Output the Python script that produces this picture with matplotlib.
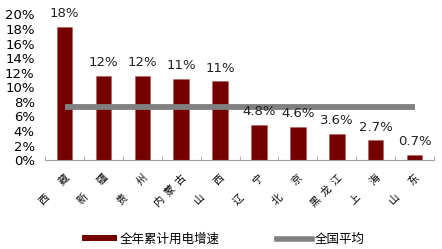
import numpy as np
import matplotlib.pyplot as plt
from matplotlib.lines import Line2D
from matplotlib.patches import Patch
from matplotlib.transforms import ScaledTranslation

plt.rcParams['font.family'] = ['DejaVu Sans', 'Noto Sans CJK SC']

# Data
provinces = ['西　   藏', '新　   疆', '贵　   州', '内  蒙  古', '山　   西',
             '辽　   宁', '北　   京', '黑  龙  江', '上　   海', '山　   东']
growth = [18.3, 11.6, 11.5, 11.1, 10.8, 4.8, 4.6, 3.6, 2.7, 0.7]
value_labels = ['18%', '12%', '12%', '11%', '11%', '4.8%', '4.6%', '3.6%', '2.7%', '0.7%']
national_avg = 7.3

bar_color = '#740000'
line_color = '#808080'

fig = plt.figure(figsize=(4.42, 2.49), dpi=100)
ax = fig.add_axes([0.102, 0.357, 0.88, 0.585])

x = np.arange(len(provinces))
ax.bar(x, growth, width=0.4, color=bar_color, edgecolor='#b06060', linewidth=0.4, zorder=2)
ax.plot([x[0], x[-1]], [national_avg] * 2, color=line_color, linewidth=4.2,
        solid_capstyle='butt', zorder=3)

for xi, v, lab in zip(x, growth, value_labels):
    ax.text(xi, v + 0.95, lab, ha='center', va='bottom', fontsize=9.5, color='#222222')

ax.set_xlim(-0.5, len(provinces) - 0.5)
ax.set_ylim(0, 20)
ax.set_yticks(np.arange(0, 21, 2))
ax.set_yticklabels([f'{t}%' for t in range(0, 21, 2)], fontsize=9.5)
ax.tick_params(axis='y', length=0, pad=7.5)

ax.set_xticks(x)
ax.set_xticklabels(provinces, rotation=45, ha='right', va='top',
                   rotation_mode='anchor', family=['Noto Sans CJK SC'], fontsize=7.5)
shift = ScaledTranslation(-7 / 100, 0, fig.dpi_scale_trans)
for lab in ax.get_xticklabels():
    lab.set_transform(lab.get_transform() + shift)
ax.set_xticks(np.arange(-0.5, len(provinces)), minor=True)
ax.tick_params(axis='x', which='major', length=0, pad=9)
ax.tick_params(axis='x', which='minor', direction='in', length=3, color='#a0a0a0')

for s in ['top', 'right', 'left']:
    ax.spines[s].set_visible(False)
ax.spines['bottom'].set_color('#a0a0a0')

handles = [Patch(facecolor=bar_color, edgecolor='none'),
           Line2D([0], [0], color=line_color, linewidth=4)]
fig.legend(handles, ['全年累计用电增速', '全国平均'], loc='center',
           bbox_to_anchor=(0.505, 0.04), ncol=2, frameon=False,
           prop={'family': ['Noto Sans CJK SC'], 'size': 9},
           handlelength=2.8, handleheight=0.45, columnspacing=4.6, handletextpad=0.2)

fig.savefig('out.png', dpi=100)
